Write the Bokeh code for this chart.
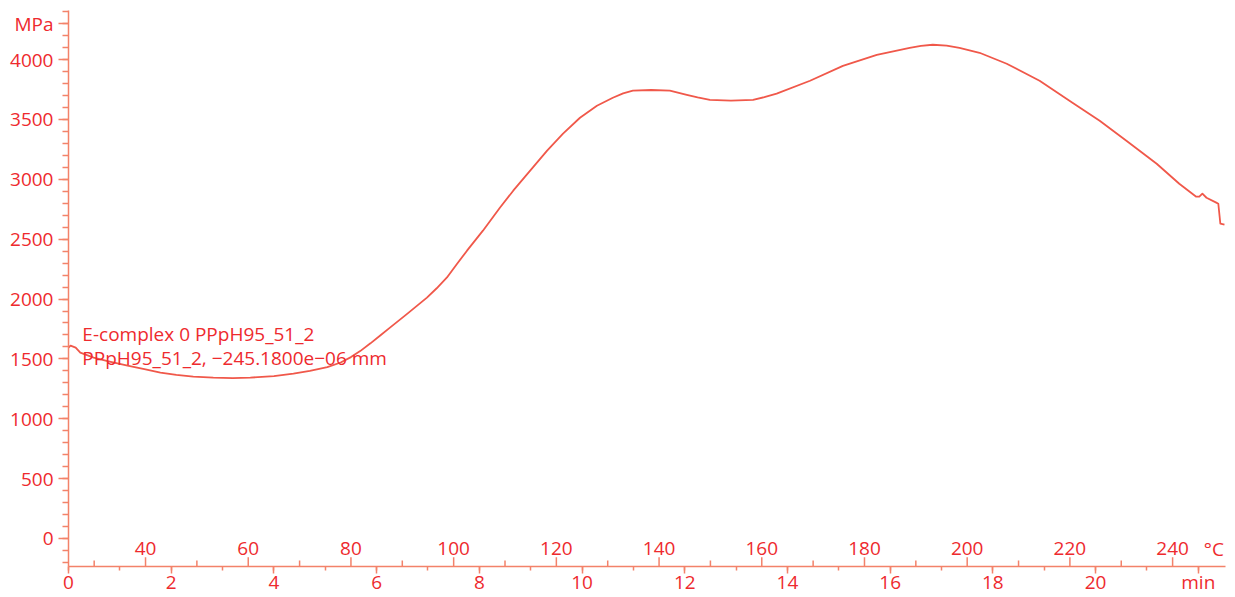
from bokeh.plotting import figure
from bokeh.models import Range1d, SingleIntervalTicker, FixedTicker, Label, ColumnDataSource
from bokeh.core.properties import value
from bokeh.embed import file_html
from bokeh.resources import INLINE

# ---- data ----
time_min = [0.0, 0.04, 0.14, 0.23, 0.49, 0.80, 1.15, 1.50, 1.79, 2.10, 2.43, 2.82, 3.20, 3.54,
            4.00, 4.38, 4.70, 5.04, 5.30, 5.50, 5.68, 5.88, 6.07, 6.26, 6.60, 6.98, 7.17,
            7.37, 7.56, 7.76, 8.07, 8.40, 8.66, 8.99, 9.32, 9.63, 9.96, 10.29, 10.60,
            10.80, 10.99, 11.35, 11.71, 12.04, 12.25, 12.49, 12.90, 13.33, 13.55, 13.79,
            14.44, 15.08, 15.74, 16.38, 16.60, 16.83, 17.10, 17.35, 17.74, 18.27, 18.91,
            19.55, 20.08, 20.60, 21.19, 21.63, 21.96, 22.02, 22.08, 22.16, 22.35, 22.39,
            22.43, 22.51]
modulus_mpa = [1594, 1611, 1594, 1553, 1511, 1478, 1444, 1412, 1386, 1366, 1352, 1344, 1340, 1344,
               1356, 1377, 1400, 1432, 1470, 1515, 1565, 1630, 1695, 1761, 1878, 2012, 2090,
               2180, 2290, 2404, 2571, 2763, 2905, 3072, 3239, 3381, 3514, 3614, 3681,
               3718, 3740, 3746, 3740, 3706, 3684, 3664, 3658, 3664, 3686, 3715,
               3823, 3948, 4040, 4098, 4114, 4124, 4117, 4098, 4057, 3965, 3823,
               3639, 3489, 3322, 3130, 2963, 2855, 2855, 2880, 2846, 2805, 2796,
               2629, 2621]

y_major = [0, 500, 1000, 1500, 2000, 2500, 3000, 3500, 4000, 4300]
y_minor = list(range(-200, 4500, 100))
y_unit = "MPa"
x_unit = "min"
temp_major = [40, 60, 80, 100, 120, 140, 160, 180, 200, 220, 240]
temp_minor = [30, 50, 70, 90, 110, 130, 150, 170, 190, 210, 230]
temp_unit = "\u00b0C"
temp_at_t0 = 25.0      # °C at 0 min
heating_rate = 10.0    # °C per min

line1 = "E-complex 0 PPpH95_51_2"
line2 = "PPpH95_51_2, \u2212245.1800e\u221206 mm"

# ---- style ----
RED = "#ee2a2e"
AXC = "#f3826a"
CURVE = "#f0584a"
FONT = "Open Sans"
FS = "19px"
X0, X1 = 0.0, 22.53
Y0, Y1 = -234.0, 4410.0

p = figure(width=1235, height=597, output_backend="svg", toolbar_location=None,
           x_range=Range1d(X0, X1), y_range=Range1d(Y0, Y1),
           min_border_left=68, min_border_right=10, min_border_top=10, min_border_bottom=31)
p.outline_line_color = None
p.xgrid.grid_line_color = None
p.ygrid.grid_line_color = None
p.background_fill_color = "white"
p.border_fill_color = "white"

p.line(time_min, modulus_mpa, line_color=CURVE, line_width=1.8, line_join="round")

# minutes axis (bottom)
xa = p.xaxis[0]
xa.ticker = SingleIntervalTicker(interval=2, num_minor_ticks=2)
xa.major_label_overrides = {22: x_unit}
# y axis
ya = p.yaxis[0]
ya.ticker = FixedTicker(ticks=y_major, minor_ticks=y_minor)
ya.major_label_overrides = {y_major[-1]: y_unit}
for ax in (xa, ya):
    ax.axis_line_color = AXC
    ax.axis_line_width = 1.5
    ax.major_tick_line_color = AXC
    ax.minor_tick_line_color = AXC
    ax.major_tick_line_width = 1.5
    ax.minor_tick_line_width = 1.5
    ax.major_label_text_color = RED
    ax.major_label_text_font = FONT
    ax.major_label_text_font_size = FS
    ax.major_tick_in = 0
    ax.minor_tick_in = 0
    ax.axis_label_standoff = 0
xa.major_tick_out = 7
xa.minor_tick_out = 4
xa.major_label_standoff = -5
ya.major_tick_out = 10
ya.minor_tick_out = 6
ya.major_label_standoff = 5

# temperature scale drawn on the bottom line (ticks upward, labels above)
def t_of(T):
    return (T - temp_at_t0) / heating_rate

tx_major = [t_of(T) for T in temp_major]
tx_minor = [t_of(T) for T in temp_minor]
p.segment(x0=tx_major, y0=[Y0] * len(tx_major), x1=tx_major, y1=[Y0 + 78] * len(tx_major),
          line_color=AXC, line_width=1.5)
p.segment(x0=tx_minor, y0=[Y0] * len(tx_minor), x1=tx_minor, y1=[Y0 + 50] * len(tx_minor),
          line_color=AXC, line_width=1.5)
src = ColumnDataSource(dict(x=tx_major, y=[Y0 + 150] * len(tx_major), t=[str(T) for T in temp_major]))
p.text(x="x", y="y", text="t", source=src, text_align="center", text_baseline="middle",
       text_color=RED, text_font=value(FONT), text_font_size=value(FS))

p.add_layout(Label(x=t_of(250), y=Y0 + 150, text=temp_unit, text_align="right",
                   text_baseline="middle", text_color=RED, text_font=FONT, text_font_size=FS))

# annotation
p.add_layout(Label(x=0.27, y=1711, text=line1, text_align="left", text_baseline="middle",
                   text_color=RED, text_font=FONT, text_font_size=FS))
p.add_layout(Label(x=0.27, y=1511, text=line2, text_align="left", text_baseline="middle",
                   text_color=RED, text_font=FONT, text_font_size=FS))

open("out.html", "w").write(file_html(p, INLINE))
